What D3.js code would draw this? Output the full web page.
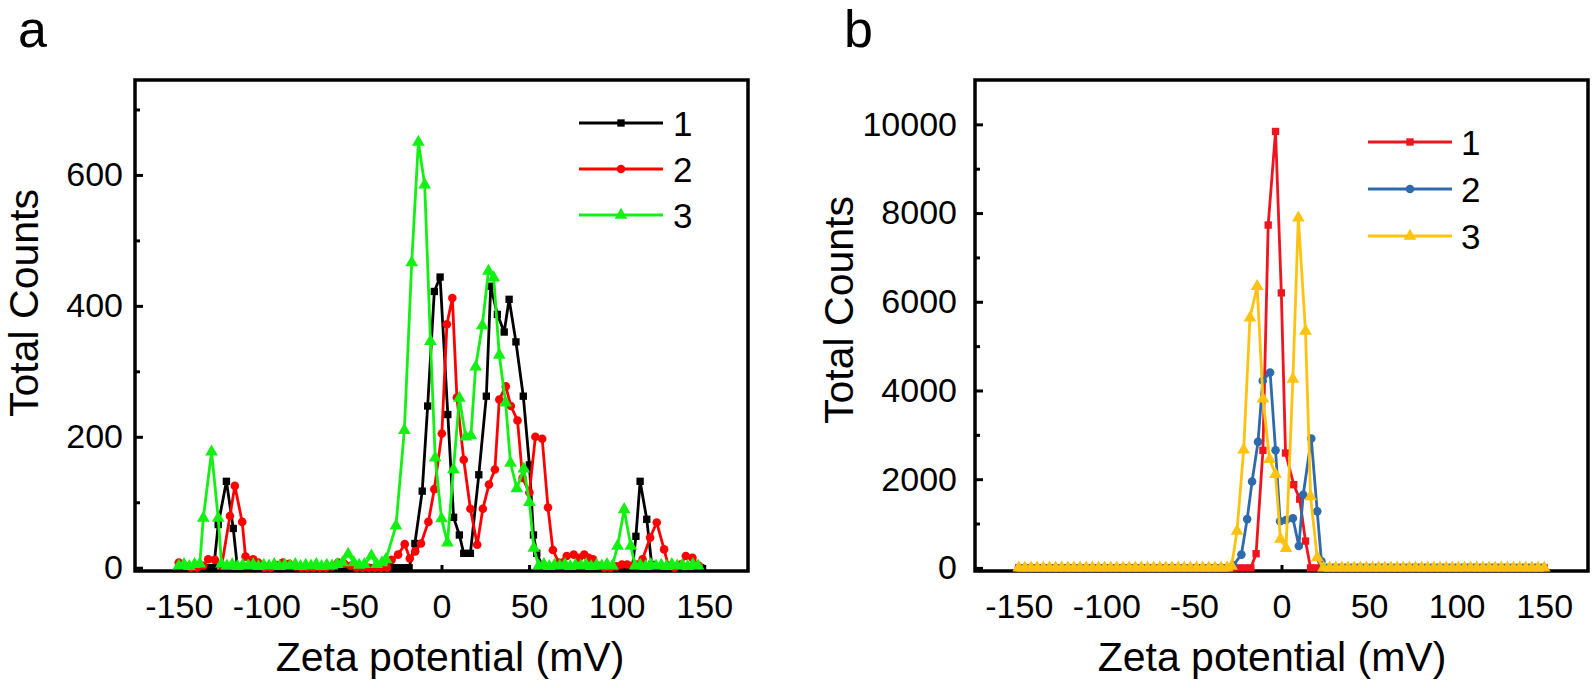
<!DOCTYPE html>
<html><head><meta charset="utf-8">
<script src="https://cdn.jsdelivr.net/npm/d3@7"></script>
<style>
html,body{margin:0;padding:0;background:#fff;}
svg{display:block;font-family:Arial,"Liberation Sans",Helvetica,sans-serif;}
</style></head><body>
<svg id="chart" width="1592" height="688"></svg>
<script>
// ---------- data ----------
const xTickValues = [-150, -100, -50, 0, 50, 100, 150];
const yTicksA = [0, 200, 400, 600];
const yMinorA = [100, 300, 500, 700];
const yTicksB = [0, 2000, 4000, 6000, 8000, 10000];
const yMinorB = [1000, 3000, 5000, 7000, 9000];
const legendLabels = ["1", "2", "3"];
const xTitle = "Zeta potential (mV)";
const yTitle = "Total Counts";

// panel a, series 1 (black)  [zeta mV, counts]
const a1 = [[-150,0],[-146.5,0],[-143,0],[-139.5,0],[-136,0],[-132.5,0],[-130,0],[-127.5,66],[-122.8,132],[-118.9,60],[-116.5,0],[-113,0],[-109.5,0],[-106,0],[-102.5,0],[-99,0],[-95.5,0],[-92,0],[-88.5,0],[-85,0],[-81.5,0],[-78,0],[-74.5,0],[-71,0],[-67.5,0],[-64,0],[-60.5,0],[-57,0],[-53.5,0],[-50,0],[-46.5,0],[-43,0],[-39.5,0],[-36,0],[-32.5,0],[-29,0],[-25.5,0],[-22,0],[-18.5,0],[-15.2,37],[-11,117],[-7.9,247],[-4.1,422],[-0.8,444],[3.6,234],[6.9,77],[10.2,50],[12.7,22],[16.5,22],[21.3,142],[25.6,262],[28.1,430],[31.9,387],[35.8,360],[38.6,410],[42.5,345],[46.7,262],[50.2,157],[52.5,50],[54.4,22],[58,0],[61.5,0],[65,0],[68.5,0],[72,0],[75.5,0],[79,0],[82.5,0],[86,0],[89.5,0],[93,0],[96.5,0],[100,0],[103.5,0],[107,0],[109,0],[111,48],[113.4,132],[117.2,74],[120,5],[123.5,0],[127,0],[130.5,0],[134,0],[137.5,0],[141,0],[144.5,0],[148,0]];
// panel a, series 2 (red)
const a2 = [[-150,8],[-146.5,3],[-143,0],[-139.5,0],[-136,3],[-133.2,13],[-129.4,12],[-125.5,3],[-120.8,79],[-118,125],[-113.8,70],[-111.9,17],[-107.5,13],[-104.7,8],[-101,0],[-97.5,0],[-94,4],[-90.5,8],[-87,6],[-83.5,2],[-80,0],[-76.5,0],[-73,0],[-69.5,0],[-66,0],[-62.5,2],[-59,8],[-55.5,6],[-52,3],[-48.5,0],[-45,0],[-41.5,0],[-38,0],[-34.5,0],[-31,0],[-28.5,12],[-24.8,20],[-21,36],[-18.1,14],[-15,25],[-11.7,37],[-7.5,70],[-4.1,120],[0.2,205],[3.1,372],[6.2,412],[8.8,260],[12.7,165],[16.5,90],[20.4,35],[23.6,90],[27.1,127],[30.5,150],[33,257],[36.7,277],[39.6,247],[43.4,225],[46.3,137],[50.2,115],[53.6,200],[57.5,197],[60.8,92],[63.6,27],[67,8],[71.5,18],[75.5,20],[78.5,15],[81.5,20],[84,15],[86.5,13],[89.5,3],[93,0],[96.5,0],[100,2],[103,5],[106,5],[109,3],[111.5,5],[114.8,13],[119.1,46],[122.9,69],[127.1,28],[129.5,3],[133,0],[136.5,5],[139.5,18],[143.3,15],[147,3]];
// panel a, series 3 (green)
const a3 = [[-150,3],[-147,5],[-144,2],[-141,5],[-138,6],[-136,76],[-131.3,177],[-127.5,76],[-125.6,6],[-122.5,3],[-119.5,5],[-116.5,2],[-113.5,4],[-110.5,3],[-107.5,5],[-104.5,2],[-101.5,4],[-98.5,3],[-95.5,5],[-92.5,2],[-89.5,4],[-86.5,3],[-83.5,5],[-80.5,2],[-77.5,4],[-74.5,3],[-71.5,5],[-68.5,2],[-65.5,4],[-62.5,3],[-59.5,5],[-56.5,8],[-53.3,21],[-50,8],[-47,4],[-44,5],[-40,18],[-37,5],[-34,8],[-31.7,13],[-26,64],[-21.2,210],[-17,466],[-13.2,650],[-9.6,585],[-6.3,346],[-3.6,168],[0,75],[3.4,38],[6.8,150],[10.2,259],[13.8,200],[16.8,202],[19.5,307],[23.3,370],[26.8,453],[29.8,443],[33,325],[36.6,252],[39.4,160],[43,121],[47,151],[50.2,100],[52.7,30],[55.5,3],[58.5,5],[61.5,2],[64.5,4],[67.5,3],[70.5,5],[73.5,2],[76.5,4],[79.5,3],[82.5,5],[85.5,2],[88.5,4],[91.5,3],[94.5,5],[97.6,3],[100.5,33],[104.3,89],[108.1,33],[110.5,3],[113.5,4],[116.5,2],[119.5,5],[122.5,3],[125.5,4],[128.5,2],[131.5,5],[134.5,3],[137.5,4],[140.5,2],[143.5,5],[146.5,3]];

// panel b, series 1 (red)
const b1 = [[-150,0],[-146.5,0],[-143,0],[-139.5,0],[-136,0],[-132.5,0],[-129,0],[-125.5,0],[-122,0],[-118.5,0],[-115,0],[-111.5,0],[-108,0],[-104.5,0],[-101,0],[-97.5,0],[-94,0],[-90.5,0],[-87,0],[-83.5,0],[-80,0],[-76.5,0],[-73,0],[-69.5,0],[-66,0],[-62.5,0],[-59,0],[-55.5,0],[-52,0],[-48.5,0],[-45,0],[-41.5,0],[-38,0],[-34.5,0],[-31,0],[-28,0],[-24.5,0],[-21,0],[-17.5,0],[-14.5,320],[-10.6,2650],[-7.6,7730],[-3.4,9840],[-0.1,6200],[2.3,2590],[7,1876],[10.4,1550],[13.7,604],[16.6,0],[20,0],[24,0],[27.5,0],[31,0],[34.5,0],[38,0],[41.5,0],[45,0],[48.5,0],[52,0],[55.5,0],[59,0],[62.5,0],[66,0],[69.5,0],[73,0],[76.5,0],[80,0],[83.5,0],[87,0],[90.5,0],[94,0],[97.5,0],[101,0],[104.5,0],[108,0],[111.5,0],[115,0],[118.5,0],[122,0],[125.5,0],[129,0],[132.5,0],[136,0],[139.5,0],[143,0],[146.5,0],[150,0]];
// panel b, series 2 (blue)
const b2 = [[-150,0],[-146.5,0],[-143,0],[-139.5,0],[-136,0],[-132.5,0],[-129,0],[-125.5,0],[-122,0],[-118.5,0],[-115,0],[-111.5,0],[-108,0],[-104.5,0],[-101,0],[-97.5,0],[-94,0],[-90.5,0],[-87,0],[-83.5,0],[-80,0],[-76.5,0],[-73,0],[-69.5,0],[-66,0],[-62.5,0],[-59,0],[-55.5,0],[-52,0],[-48.5,0],[-45,0],[-41.5,0],[-38,0],[-34.5,0],[-31,0],[-27.5,60],[-22.9,300],[-19.6,1100],[-16.8,1946],[-13.4,2841],[-10.7,4220],[-6.5,4407],[-3.4,2654],[-0.8,1050],[2.6,1080],[6.5,1120],[9.9,492],[12.4,1649],[17,2916],[20.4,1275],[22.8,150],[26,0],[29.5,0],[33,0],[36.5,0],[40,0],[43.5,0],[47,0],[50.5,0],[54,0],[57.5,0],[61,0],[64.5,0],[68,0],[71.5,0],[75,0],[78.5,0],[82,0],[85.5,0],[89,0],[92.5,0],[96,0],[99.5,0],[103,0],[106.5,0],[110,0],[113.5,0],[117,0],[120.5,0],[124,0],[127.5,0],[131,0],[134.5,0],[138,0],[141.5,0],[145,0],[148.5,0]];
// panel b, series 3 (yellow)
const b3 = [[-150,0],[-146.5,0],[-143,0],[-139.5,0],[-136,0],[-132.5,0],[-129,0],[-125.5,0],[-122,0],[-118.5,0],[-115,0],[-111.5,0],[-108,0],[-104.5,0],[-101,0],[-97.5,0],[-94,0],[-90.5,0],[-87,0],[-83.5,0],[-80,0],[-76.5,0],[-73,0],[-69.5,0],[-66,0],[-62.5,0],[-59,0],[-55.5,0],[-52,0],[-48.5,0],[-45,0],[-41.5,0],[-38,0],[-34.5,0],[-31,0],[-28.5,40],[-25.4,828],[-21.6,2660],[-18,5640],[-13.9,6346],[-10.6,3810],[-6.8,2450],[-3.4,2110],[-0.6,650],[2.6,440],[6.5,4257],[9.6,7890],[13.7,5340],[16.6,1610],[20.4,230],[24,0],[27.5,0],[31,0],[34.5,0],[38,0],[41.5,0],[45,0],[48.5,0],[52,0],[55.5,0],[59,0],[62.5,0],[66,0],[69.5,0],[73,0],[76.5,0],[80,0],[83.5,0],[87,0],[90.5,0],[94,0],[97.5,0],[101,0],[104.5,0],[108,0],[111.5,0],[115,0],[118.5,0],[122,0],[125.5,0],[129,0],[132.5,0],[136,0],[139.5,0],[143,0],[146.5,0],[150,0]];

// ---------- drawing ----------
const svg = d3.select("#chart");
const symbolTypes = [d3.symbolSquare, d3.symbolCircle, d3.symbolTriangle];
const symbolSizes = [54, 58, 70];

function drawPanel(p) {
  const x = d3.scaleLinear().domain([-175, 175]).range([p.left, p.right]);
  const y = d3.scaleLinear().domain(p.yDomain).range([p.bottom, p.top]).clamp(true);
  const g = svg.append("g");

  g.append("rect")
    .attr("x", p.left).attr("y", p.top)
    .attr("width", p.right - p.left).attr("height", p.bottom - p.top)
    .attr("fill", "none").attr("stroke", "#000").attr("stroke-width", 3.5);

  const yAx = g.append("g").attr("transform", `translate(${p.left},0)`)
    .call(d3.axisLeft(y).tickValues(p.yTicks).tickSizeInner(-8).tickSizeOuter(0)
      .tickPadding(p.yPad).tickFormat(d => String(d)));
  const yMin = g.append("g").attr("transform", `translate(${p.left},0)`)
    .call(d3.axisLeft(y).tickValues(p.yMinor).tickSizeInner(-5).tickSizeOuter(0).tickFormat(""));
  const xAx = g.append("g").attr("transform", `translate(0,${p.bottom})`)
    .call(d3.axisBottom(x).tickValues(xTickValues).tickSizeInner(-6).tickSizeOuter(0)
      .tickPadding(23).tickFormat(d => String(d)));

  [yAx, yMin, xAx].forEach(a => {
    a.select(".domain").remove();
    a.selectAll(".tick line").attr("stroke", "#000").attr("stroke-width", 3);
    a.selectAll(".tick text").attr("fill", "#000").style("font-size", "34px")
      .style("font-family", 'Arial,"Liberation Sans",sans-serif');
    a.attr("font-size", null).attr("font-family", null);
  });

  const line = d3.line().x(d => x(d[0])).y(d => y(d[1]));
  p.series.forEach((s, i) => {
    g.append("path").datum(s)
      .attr("d", line).attr("fill", "none")
      .attr("stroke", p.colors[i]).attr("stroke-width", 2.8)
      .attr("stroke-linejoin", "round");
    g.append("g").selectAll("path").data(s).join("path")
      .attr("transform", d => `translate(${x(d[0])},${y(d[1])})`)
      .attr("d", d3.symbol().type(symbolTypes[i]).size(symbolSizes[i]))
      .attr("fill", p.colors[i]);
  });

  p.legendRows.forEach((ry, i) => {
    g.append("line").attr("x1", p.legX1).attr("x2", p.legX2).attr("y1", ry).attr("y2", ry)
      .attr("stroke", p.colors[i]).attr("stroke-width", 2.8);
    g.append("path").attr("transform", `translate(${(p.legX1 + p.legX2) / 2},${ry})`)
      .attr("d", d3.symbol().type(symbolTypes[i]).size(symbolSizes[i]))
      .attr("fill", p.colors[i]);
    g.append("text").attr("x", p.legText).attr("y", ry).attr("dy", "0.36em")
      .style("font-size", "35px").attr("fill", "#000").text(legendLabels[i]);
  });

  g.append("text").attr("x", p.xTitleX).attr("y", p.xTitleY)
    .attr("text-anchor", "middle").style("font-size", "41px").attr("fill", "#000").text(xTitle);
  g.append("text").attr("transform", `translate(${p.yTitleX},${p.yTitleY}) rotate(-90)`)
    .attr("text-anchor", "middle").style("font-size", "41px").attr("fill", "#000").text(yTitle);

  g.append("text").attr("x", p.letterX).attr("y", p.letterY)
    .style("font-size", "52px").attr("fill", "#000").text(p.letter);
}

drawPanel({
  left: 135, right: 748, top: 80, bottom: 571,
  yDomain: [-5, 745], yTicks: yTicksA, yMinor: yMinorA, yPad: 12,
  series: [a1, a2, a3], colors: ["#000000", "#ff0000", "#14f014"],
  legendRows: [123, 169, 215], legX1: 579, legX2: 663, legText: 673,
  xTitleX: 450, xTitleY: 671, yTitleX: 38, yTitleY: 303,
  letter: "a", letterX: 18, letterY: 47
});
drawPanel({
  left: 975, right: 1588, top: 80, bottom: 571,
  yDomain: [-70, 11000], yTicks: yTicksB, yMinor: yMinorB, yPad: 18,
  series: [b1, b2, b3], colors: ["#f0141e", "#2f6aab", "#ffc20e"],
  legendRows: [142, 189, 236], legX1: 1368, legX2: 1452, legText: 1461,
  xTitleX: 1272, xTitleY: 671, yTitleX: 853, yTitleY: 310,
  letter: "b", letterX: 844, letterY: 47
});
</script>
</body></html>
